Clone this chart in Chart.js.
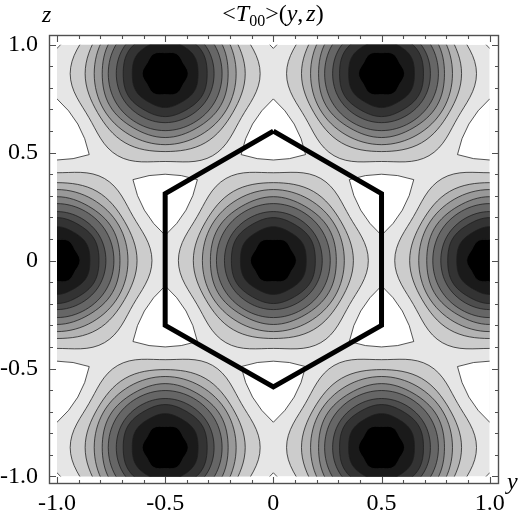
<!DOCTYPE html>
<html><head><meta charset="utf-8">
<script src="https://cdn.jsdelivr.net/npm/chart.js@4.4.1/dist/chart.umd.min.js"></script>
<style>html,body{margin:0;padding:0;background:#fff}</style>
</head><body><canvas id="c" width="527" height="518"></canvas>
<script>
// Peak (lattice) positions: y and z coordinates
const peakY = [0, -1, 1, -0.5, 0.5, -0.5, 0.5, -1.5, 1.5, -1.5, 1.5];
const peakZ = [0, 0, 0, 0.866, 0.866, -0.866, -0.866, 0.866, 0.866, -0.866, -0.866];
// Contour ring radii around each peak (innermost first), toward neighbours / between neighbours
const ringRadiusToNeighbour = [0.106, 0.152, 0.194, 0.226, 0.263, 0.291, 0.328, 0.370, 0.439];
const ringRadiusBetween     = [0.097, 0.157, 0.199, 0.227, 0.264, 0.296, 0.329, 0.361, 0.407];
// Gray level inside each ring boundary
const ringShades = [0.0, 0.1, 0.2, 0.3, 0.4, 0.5, 0.6, 0.7, 0.8];
const backgroundShade = 0.9;
const patchShade = 1.0;
// White patches (highest level) at triangle centres; apex up (1) or down (-1)
const patchY = [0, -1, 1, -0.5, 0.5, 0, -1, 1, -0.5, 0.5, 0, -1, 1, 0, -1, 1];
const patchZ = [0.577, 0.577, 0.577, -0.289, -0.289, -1.155, -1.155, -1.155, 0.289, 0.289, -0.577, -0.577, -0.577, 1.155, 1.155, 1.155];
const patchDir = [1, 1, 1, 1, 1, 1, 1, 1, -1, -1, -1, -1, -1, -1, -1, -1];
const patchRadius = 0.172;
// Hexagon (Wigner-Seitz cell) outline
const hexY = [0, 0.5, 0.5, 0, -0.5, -0.5, 0];
const hexZ = [0.6, 0.31, -0.3, -0.585, -0.3, 0.31, 0.6];
// Axis ticks
const tickValues = [-1, -0.5, 0, 0.5, 1];
const tickLabels = ['-1.0', '-0.5', '0', '0.5', '1.0'];
const minorTickValues = [-1, -0.9, -0.8, -0.7, -0.6, -0.5, -0.4, -0.3, -0.2, -0.1, 0, 0.1, 0.2, 0.3, 0.4, 0.5, 0.6, 0.7, 0.8, 0.9, 1];

const SERIF = '"Liberation Serif", "DejaVu Serif", serif';
const gray = g => { const c = Math.round(g * 255); return `rgb(${c},${c},${c})`; };

const contourPlugin = {
  id: 'contours',
  beforeDatasetsDraw(chart) {
    const { ctx, scales: { x, y } } = chart;
    const X = v => x.getPixelForValue(v), Y = v => y.getPixelForValue(v);
    ctx.save();
    ctx.beginPath();
    ctx.rect(X(-1), Y(1), X(1) - X(-1), Y(-1) - Y(1));
    ctx.clip();
    ctx.fillStyle = gray(backgroundShade);
    ctx.fillRect(X(-1), Y(1), X(1) - X(-1), Y(-1) - Y(1));
    ctx.strokeStyle = 'rgba(30,30,30,0.85)';
    ctx.lineWidth = 0.9;
    ctx.lineJoin = 'round';
    // white patches: rounded triangles
    for (let k = 0; k < patchY.length; k++) {
      const cy = patchY[k], cz = patchZ[k], d = patchDir[k];
      const base = d > 0 ? Math.PI / 2 : -Math.PI / 2;
      const v = [0, 1, 2].map(i => {
        const a = base + i * 2 * Math.PI / 3;
        return [cy + patchRadius * Math.cos(a), cz + patchRadius * Math.sin(a)];
      });
      ctx.beginPath();
      ctx.moveTo(X(v[0][0]), Y(v[0][1]));
      for (let i = 0; i < 3; i++) {
        const p = v[i], q = v[(i + 1) % 3];
        const mx = (p[0] + q[0]) / 2, mz = (p[1] + q[1]) / 2;
        const nx = mx - cy, nz = mz - cz, nl = Math.hypot(nx, nz);
        const off = 0.05;
        const c1 = [mx + nx / nl * off, mz + nz / nl * off];
        ctx.quadraticCurveTo(X(c1[0]), Y(c1[1]), X(q[0]), Y(q[1]));
      }
      ctx.closePath();
      ctx.fillStyle = gray(patchShade);
      ctx.fill();
      ctx.stroke();
    }
    // rings around each peak
    const N = 96;
    for (let p = 0; p < peakY.length; p++) {
      for (let i = ringShades.length - 1; i >= 0; i--) {
        const a = (ringRadiusToNeighbour[i] + ringRadiusBetween[i]) / 2;
        const b = (ringRadiusToNeighbour[i] - ringRadiusBetween[i]) / 2;
        ctx.beginPath();
        for (let s = 0; s <= N; s++) {
          const t = s / N * 2 * Math.PI;
          const r = a + b * Math.cos(6 * t);
          const px = X(peakY[p] + r * Math.cos(t)), py = Y(peakZ[p] + r * Math.sin(t));
          if (s === 0) ctx.moveTo(px, py); else ctx.lineTo(px, py);
        }
        ctx.closePath();
        ctx.fillStyle = gray(ringShades[i]);
        ctx.fill();
        ctx.stroke();
      }
    }
    ctx.restore();
  },
  afterDraw(chart) {
    const { ctx, chartArea: ca, scales: { x, y } } = chart;
    ctx.save();
    ctx.strokeStyle = '#505050';
    ctx.lineWidth = 1.4;
    ctx.strokeRect(ca.left + 0.5, ca.top + 0.5, ca.right - ca.left - 1, ca.bottom - ca.top - 1);
    ctx.lineWidth = 1.1;
    ctx.beginPath();
    for (const v of minorTickValues) {
      const major = tickValues.some(t => Math.abs(t - v) < 1e-9);
      const len = major ? 7 : 4;
      const px = Math.round(x.getPixelForValue(v)) + 0.5;
      const py = Math.round(y.getPixelForValue(v)) + 0.5;
      ctx.moveTo(px, ca.bottom); ctx.lineTo(px, ca.bottom - len);
      ctx.moveTo(px, ca.top); ctx.lineTo(px, ca.top + len);
      ctx.moveTo(ca.left, py); ctx.lineTo(ca.left + len, py);
      ctx.moveTo(ca.right, py); ctx.lineTo(ca.right - len, py);
    }
    ctx.stroke();
    // title <T00>(y,z)
    ctx.fillStyle = '#000';
    ctx.textBaseline = 'alphabetic';
    const parts = [
      ['<', 'normal', 24, 0], ['T', 'italic', 24, 0], ['00', 'normal', 16, 5],
      ['>(', 'normal', 24, 0], ['y', 'italic', 24, 0], [',', 'normal', 24, 0],
      [' ', 'normal', 12, 0], ['z', 'italic', 24, 0], [')', 'normal', 24, 0]
    ];
    let total = 0;
    for (const p of parts) { ctx.font = `${p[1]} ${p[2]}px ${SERIF}`; total += ctx.measureText(p[0]).width; }
    let cx = 273 - total / 2;
    for (const p of parts) {
      ctx.font = `${p[1]} ${p[2]}px ${SERIF}`;
      ctx.textAlign = 'left';
      ctx.fillText(p[0], cx, 21 + p[3]);
      cx += ctx.measureText(p[0]).width;
    }
    ctx.font = `italic 24px ${SERIF}`;
    ctx.textAlign = 'left';
    ctx.fillText('z', 42, 22);
    ctx.fillText('y', 507, 489);
    ctx.restore();
  }
};

new Chart(document.getElementById('c'), {
  type: 'scatter',
  data: {
    datasets: [{
      data: hexY.map((v, i) => ({ x: v, y: hexZ[i] })),
      showLine: true,
      borderColor: '#000',
      borderWidth: 5,
      borderJoinStyle: 'miter',
      pointRadius: 0,
      fill: false,
      tension: 0
    }]
  },
  options: {
    responsive: false,
    animation: false,
    devicePixelRatio: 1,
    layout: { padding: { top: 35, right: 28, left: 0, bottom: 0 } },
    plugins: { legend: { display: false }, title: { display: false }, tooltip: { enabled: false } },
    scales: {
      x: {
        type: 'linear', min: -1.037, max: 1.043, position: 'bottom',
        afterBuildTicks: s => { s.ticks = tickValues.map(v => ({ value: v })); },
        afterFit: s => { s.height = 34; },
        grid: { display: false, drawTicks: false },
        border: { display: false },
        ticks: {
          padding: 5, color: '#000', maxRotation: 0, autoSkip: false,
          font: { family: SERIF, size: 24 },
          callback: v => tickLabels[tickValues.findIndex(t => Math.abs(t - v) < 1e-9)]
        }
      },
      y: {
        type: 'linear', min: -1.035, max: 1.045, position: 'left',
        afterBuildTicks: s => { s.ticks = tickValues.map(v => ({ value: v })); },
        afterFit: s => { s.width = 49; },
        grid: { display: false, drawTicks: false },
        border: { display: false },
        ticks: {
          padding: 11, color: '#000', autoSkip: false,
          font: { family: SERIF, size: 24 },
          callback: v => tickLabels[tickValues.findIndex(t => Math.abs(t - v) < 1e-9)]
        }
      }
    }
  },
  plugins: [contourPlugin]
});
</script>
</body></html>
